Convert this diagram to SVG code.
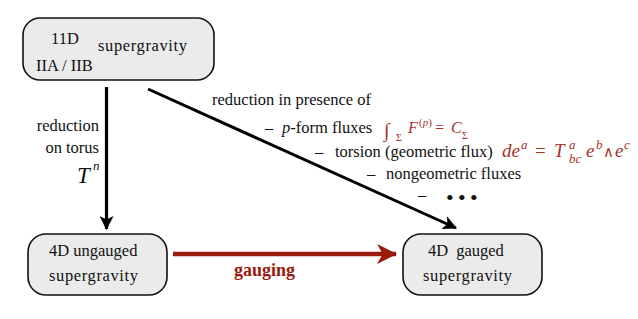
<svg xmlns="http://www.w3.org/2000/svg" width="638" height="319" viewBox="0 0 638 319" font-family="'Liberation Serif', 'Times New Roman', 'DejaVu Serif', serif">
<defs>
<style>
.node rect{fill:#ebebeb;stroke:#111;stroke-width:1.6}
text{font-family:'Liberation Serif','Times New Roman','DejaVu Serif',serif;fill:#111}
.n{font-size:16.5px}
.l{font-size:16.5px}
.it{font-style:italic}
.red{fill:#a8322a}
</style>
<marker id="ah" viewBox="0 0 14 14" refX="13" refY="7" markerWidth="14" markerHeight="14" markerUnits="userSpaceOnUse" orient="auto">
<path d="M0,0 L14,7 L0,14 L3.5,7 z" fill="#000"/>
</marker>
<marker id="ahr" viewBox="0 0 18 18" refX="17" refY="9" markerWidth="20" markerHeight="20" markerUnits="userSpaceOnUse" orient="auto">
<path d="M0,0 L18,9 L0,18 L5,9 z" fill="#9a1a0c"/>
</marker>
</defs>
<rect width="638" height="319" fill="#fff"/>

<g id="node-11d" class="node">
<rect x="23" y="18" width="191" height="62" rx="17"/>
<text class="n" x="51" y="44">11D</text>
<text class="n" x="98" y="51" textLength="89">supergravity</text>
<text class="n" x="36" y="71">IIA / IIB</text>
</g>

<g id="node-4d-ungauged" class="node">
<rect x="28" y="234" width="139" height="61" rx="18"/>
<text class="n" x="49" y="256">4D ungauged</text>
<text class="n" x="49" y="281" textLength="89">supergravity</text>
</g>

<g id="node-4d-gauged" class="node">
<rect x="403" y="234" width="139" height="61" rx="18"/>
<text class="n" x="428" y="256">4D<tspan dx="8">gauged</tspan></text>
<text class="n" x="423" y="281" textLength="89">supergravity</text>
</g>

<g id="connectors" fill="none">
<line x1="106.5" y1="87" x2="106.5" y2="229" stroke="#000" stroke-width="3.2" marker-end="url(#ah)"/>
<line x1="148" y1="89" x2="456" y2="228" stroke="#000" stroke-width="3" marker-end="url(#ah)"/>
<line x1="173" y1="254" x2="396" y2="254" stroke="#9a1a0c" stroke-width="4.5" marker-end="url(#ahr)"/>
</g>

<g id="labels">
<text class="l" x="99" y="131" text-anchor="end">reduction</text>
<text class="l" x="99" y="153" text-anchor="end">on torus</text>
<text class="it" x="77" y="183" font-size="23">T</text>
<text class="it" x="93" y="170" font-size="13">n</text>

<text x="234" y="276" font-size="18" font-weight="bold" style="fill:#9a1a0c">gauging</text>

<text class="l" x="212" y="105">reduction in presence of</text>
<text class="l" x="265" y="133">–</text>
<text class="l" x="282" y="133"><tspan class="it">p</tspan>-form fluxes</text>
<text class="l" x="315" y="157">–</text>
<text class="l" x="335" y="157">torsion (geometric flux)</text>
<text class="l" x="367" y="179">–</text>
<text class="l" x="386" y="179">nongeometric fluxes</text>
<text class="l" x="418" y="200">–</text>
<text x="446" y="205" font-size="22">•<tspan dx="4.3">•</tspan><tspan dx="4.3">•</tspan></text>

<text class="red" x="384" y="137" font-size="20">∫</text>
<text class="red" x="396" y="141" font-size="10">Σ</text>
<text class="red it" x="408" y="133" font-size="16">F</text>
<text class="red" x="419" y="126" font-size="11">(<tspan class="it">p</tspan>)</text>
<text class="red" x="435" y="133" font-size="16">=</text>
<text class="red it" x="451" y="133" font-size="16">C</text>
<text class="red" x="462" y="139" font-size="10">Σ</text>

<text class="red it" x="502" y="157" font-size="19">de</text>
<text class="red it" x="521" y="149" font-size="13">a</text>
<text class="red" x="535" y="157" font-size="19">=</text>
<text class="red it" x="554" y="157" font-size="19">T</text>
<text class="red it" x="569" y="149" font-size="13">a</text>
<text class="red it" x="569" y="163" font-size="13">bc</text>
<text class="red it" x="586" y="157" font-size="19">e</text>
<text class="red it" x="596" y="149" font-size="13">b</text>
<text class="red" x="603" y="157" font-size="15">∧</text>
<text class="red it" x="615" y="157" font-size="19">e</text>
<text class="red it" x="624" y="149" font-size="13">c</text>
</g>
</svg>
